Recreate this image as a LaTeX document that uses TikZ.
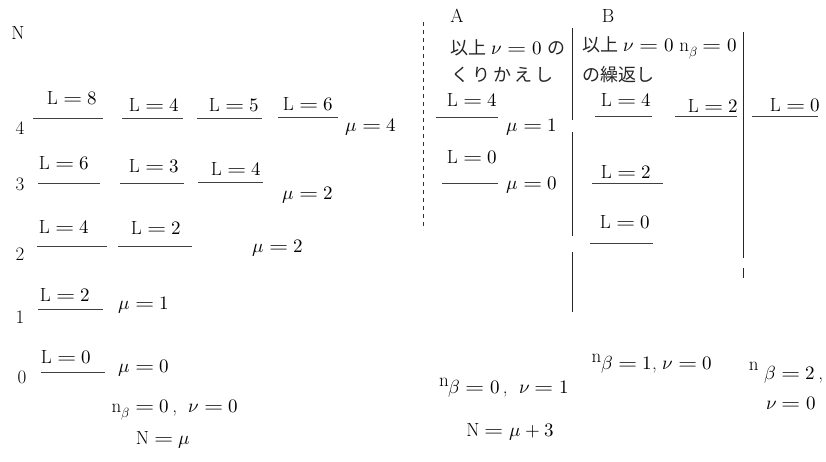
\documentclass[tikz,border=0pt]{standalone}
\usepackage{fontspec}
\usepackage{unicode-math}
\usepackage{graphicx}
\newfontfamily\jp{Noto Sans CJK JP}
\newcommand{\eqq}{\mathrel{\scalebox{1.3}[1]{$=$}}}
\newcommand{\Lv}[1]{$\mathrm{L}\eqq #1$}
\newcommand{\mv}[1]{$\mu\eqq #1$}
\begin{document}
\begin{tikzpicture}[x=1pt,y=-1pt,
  txt/.style={inner sep=0pt, font=\fontsize{19}{21}\selectfont},
  jtxt/.style={inner sep=0pt, text=black!85, font=\fontsize{18}{20}\selectfont\jp},
  lev/.style={line width=0.9pt, black!75},
  vsolid/.style={line width=0.8pt, black!85},
  vdash/.style={line width=0.8pt, black!80, dash pattern=on 4pt off 4pt}]
\useasboundingbox (0,0) rectangle (826,462);

% ---------- left part ----------
\node[txt] (N) at (18,33) {N};
\node[txt] (r4) at (20,128) {4};
\node[txt] (r3) at (20,184) {3};
\node[txt] (r2) at (20,254) {2};
\node[txt] (r1) at (20,317) {1};
\node[txt] (r0) at (22,377) {0};

% row 4
\draw[lev] (33,118) -- (103,118);
\node[txt] (a48) at (72,98) {\Lv{8}};
\draw[lev] (122,118) -- (183,118);
\node[txt] (a44) at (154,105) {\Lv{4}};
\draw[lev] (197,118) -- (262,118);
\node[txt] (a45) at (234,105) {\Lv{5}};
\draw[lev] (278,117) -- (338,117);
\node[txt] (a46) at (308,104) {\Lv{6}};
\node[txt] (m4) at (371,127) {\mv{4}};

% row 3
\draw[lev] (38,183) -- (100,183);
\node[txt] (a36) at (64,163) {\Lv{6}};
\draw[lev] (120,183) -- (184,183);
\node[txt] (a33) at (154,166) {\Lv{3}};
\draw[lev] (198,182) -- (263,182);
\node[txt] (a34) at (236,169) {\Lv{4}};
\node[txt] (m3) at (308,195) {\mv{2}};

% row 2
\draw[lev] (37,246) -- (107,246);
\node[txt] (a24) at (64,227) {\Lv{4}};
\draw[lev] (118,246) -- (192,246);
\node[txt] (a22) at (156,228) {\Lv{2}};
\node[txt] (m2) at (278,248) {\mv{2}};

% row 1
\draw[lev] (38,309) -- (103,309);
\node[txt] (a12) at (65,295) {\Lv{2}};
\node[txt] (m1) at (144,305) {\mv{1}};

% row 0
\draw[lev] (41,372) -- (105,372);
\node[txt] (a00) at (66,357) {\Lv{0}};
\node[txt] (m0) at (144,368) {\mv{0}};

\node[txt] (nb0) at (175,410) {$\mathrm{n}_{\beta}\eqq0$\,,\ \ $\nu\eqq0$};
\node[txt] (Nmu) at (163,440) {$\mathrm{N}\eqq\mu$};

% ---------- right part ----------
\node[txt] (A) at (457,16) {A};
\node[txt] (B) at (608,16) {B};

\draw[vdash] (423,22) -- (423,230);
\draw[vsolid] (572,28) -- (572,120);
\draw[vsolid] (572,132) -- (572,236);
\draw[vsolid] (572,252) -- (572,312);
\draw[vsolid] (743,32) -- (743,258);
\draw[vsolid] (743,268) -- (743,278);

% column A
\node[txt, anchor=west] (Ah1) at (450,48) {{\fontsize{18}{20}\selectfont\jp\color{black!85}以上}\ $\nu\eqq0$\ {\fontsize{18}{20}\selectfont\jp\color{black!85}の}};
\node[jtxt, anchor=west] (Ah2) at (451,75) {く\,り\,か\,え\,し};
\draw[lev] (436,117) -- (498,117);
\node[txt] (A4) at (472,100) {\Lv{4}};
\node[txt] (Am1) at (532,127) {\mv{1}};
\draw[lev] (442,183) -- (498,183);
\node[txt] (A0) at (472,157) {\Lv{0}};
\node[txt] (Am0) at (532,185) {\mv{0}};

% column B
\node[txt, anchor=west] (Bh1) at (582,48) {{\fontsize{18}{20}\selectfont\jp\color{black!85}以上}\ $\nu\eqq0$\ $\mathrm{n}_{\beta}\eqq0$};
\node[jtxt, anchor=west] (Bh2) at (582,75) {の繰返し};
\draw[lev] (595,116) -- (652,116);
\node[txt] (B4) at (626,100) {\Lv{4}};
\draw[lev] (675,116) -- (737,116);
\node[txt] (B2) at (713,106) {\Lv{2}};
\draw[lev] (752,116) -- (818,116);
\node[txt] (C0) at (795,105) {\Lv{0}};
\draw[lev] (592,183) -- (663,183);
\node[txt] (B2b) at (626,172) {\Lv{2}};
\draw[lev] (590,243) -- (653,243);
\node[txt] (B0b) at (625,222) {\Lv{0}};

% bottom right
\node[txt] (nA) at (504,388) {\raisebox{7pt}{n}$\beta\eqq0$\,,\ \ $\nu\eqq1$};
\node[txt] (NA) at (510,432) {$\mathrm{N}\eqq\mu+3$};
\node[txt] (nB) at (652,364) {\raisebox{7pt}{n}$\beta\eqq1$,\ $\nu\eqq0$};
\node[txt] (nC) at (786,373) {\raisebox{9pt}{n}\ $\beta\eqq2$\,,};
\node[txt] (nC2) at (791,403) {$\nu\eqq0$};
\end{tikzpicture}
\end{document}
